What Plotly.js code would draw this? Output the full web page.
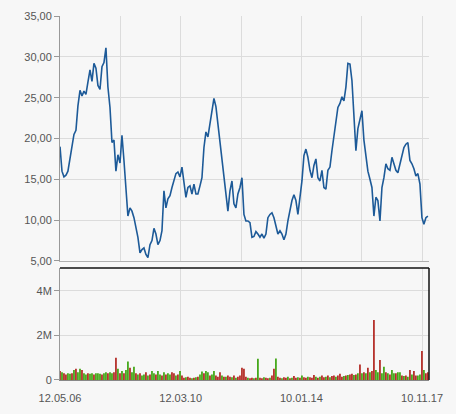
<!DOCTYPE html>
<html><head><meta charset="utf-8">
<script src="https://cdn.plot.ly/plotly-3.0.1.min.js"></script>
<style>html,body{margin:0;padding:0;background:#f7f7f7;}#chart{width:456px;height:414px;}</style>
</head><body><div id="chart"></div>
<script>
// Sampling grid: first date and spacing (days) between samples
const startDate = "2006-05-12";
const stepDays = 23.2;

// Closing price
const price = [
 19.0,16.0,15.3,15.5,16.0,17.7,19.3,20.5,21.0,24.0,
 25.9,25.2,25.8,25.4,26.9,28.4,27.0,29.2,28.6,26.5,
 26.0,28.8,29.3,31.1,26.3,23.8,19.5,19.8,16.0,18.0,
 17.0,20.4,17.3,14.4,10.5,11.5,11.1,10.3,9.1,7.9,
 6.0,6.4,6.6,5.8,5.4,7.0,7.5,9.0,8.3,7.0,
 7.5,8.7,13.6,11.5,12.6,13.0,14.0,14.8,15.7,15.9,
 15.3,16.5,14.4,12.8,14.0,14.2,13.2,14.4,13.2,13.2,
 14.2,15.2,18.9,20.8,20.2,21.8,23.0,24.9,23.9,21.8,
 20.0,17.7,16.1,13.6,11.1,13.6,14.8,12.0,11.5,13.2,
 14.0,15.2,10.7,9.9,9.9,9.7,7.9,8.0,8.6,8.3,
 7.9,8.3,7.8,8.3,10.3,10.7,10.9,10.3,9.1,8.3,
 8.7,8.3,7.6,8.3,9.9,11.1,12.4,13.1,12.4,10.7,
 12.8,14.8,17.9,18.7,17.7,16.1,15.2,16.7,17.5,15.2,
 14.8,16.1,14.0,13.8,16.1,16.5,18.5,20.3,22.0,23.8,
 24.3,25.1,24.6,26.3,29.2,29.1,27.1,23.0,18.5,21.2,
 22.4,23.4,19.8,18.1,16.0,15.0,14.0,10.5,12.8,12.4,
 9.9,14.0,15.2,16.9,16.3,16.1,17.7,16.9,16.1,15.8,
 16.9,18.1,18.9,19.3,19.5,17.3,16.9,16.3,15.4,15.7,
 14.4,10.3,9.5,10.3,10.5
];

// Volume in millions
const volume = [
 0.40,0.35,0.30,0.25,0.30,0.28,0.30,0.45,0.50,0.35,
 0.50,0.45,0.30,0.25,0.30,0.28,0.30,0.25,0.30,0.30,
 0.28,0.25,0.30,0.35,0.30,0.35,0.30,0.35,1.00,0.50,
 0.30,0.40,0.30,0.45,0.83,0.55,0.35,0.60,0.30,0.25,
 0.30,0.20,0.25,0.35,0.20,0.25,0.40,0.30,0.25,0.40,
 0.25,0.20,0.35,0.25,0.30,0.25,0.35,0.30,0.20,0.25,
 0.40,0.20,0.10,0.12,0.15,0.10,0.08,0.10,0.12,0.15,
 0.25,0.38,0.30,0.40,0.35,0.20,0.25,0.40,0.20,0.15,
 0.35,0.20,0.15,0.15,0.20,0.15,0.12,0.20,0.10,0.15,
 0.20,0.55,0.50,0.15,0.10,0.08,0.10,0.08,0.10,0.95,
 0.10,0.08,0.12,0.10,0.08,0.10,0.20,0.50,0.97,0.15,
 0.10,0.08,0.12,0.10,0.15,0.08,0.10,0.18,0.10,0.12,
 0.10,0.20,0.12,0.10,0.15,0.12,0.10,0.22,0.15,0.10,
 0.15,0.20,0.12,0.15,0.20,0.12,0.18,0.20,0.15,0.20,
 0.28,0.15,0.18,0.20,0.22,0.25,0.28,0.22,0.25,0.30,
 0.70,0.30,0.35,0.30,0.55,0.35,0.40,2.70,0.45,0.35,
 0.90,0.30,0.60,0.35,0.30,0.25,0.45,0.30,0.30,0.35,
 0.35,0.20,0.18,0.20,0.15,0.45,0.25,0.40,0.20,0.20,
 0.25,1.30,0.45,0.30,0.35
];

// Direction of each volume bar: R = down, G = up
const direction = (
 "RGRRGGRGRG"+"GRGGRGGRGG"+"GRGGRGGRRG"+"RGRGGRGGRG"+"RGGRGRGGRG"+
 "GRGRGGRRGR"+"GRRGRRGRGR"+"GGRGGRGGRR"+"RGRGRRGRGR"+"RRRRGRRGRG"+
 "RRGRRGRRGR"+"RGRRGRGRRG"+"RGRRGRRRGR"+"GRRGRGRRGR"+"RRGRGRRGRG"+
 "RGRGRGRRGG"+"RGGRGRGGRG"+"GRGRGRGRRG"+"GRGRR").split("");

// Axis ticks
const gridDates = ["2006-05-12","2008-04-11","2010-03-12","2012-02-10","2014-01-10","2015-12-11","2017-11-10"];
const labelDates = ["2006-05-12","2010-03-12","2014-01-10","2017-11-10"];
const labelText = ["12.05.06","12.03.10","10.01.14","10.11.17"];
const volTicks = [0, 2, 4];
const volTickText = ["0","2M","4M"];
const xRange = ["2006-05-12","2018-01-30"];

const t0 = new Date(startDate + "T00:00:00Z").getTime();
const dates = price.map((_, i) => new Date(t0 + i*stepDays*86400000).toISOString().slice(0,10));
const barColors = direction.map(d => d === "R" ? "#b0221c" : "#3aa30c");

const tickFont = {family:"Liberation Sans, Arial, sans-serif", size:11, color:"#555"};

const data = [
 {x: dates, y: price, type:"scatter", mode:"lines", xaxis:"x", yaxis:"y",
  line:{color:"#1d5a98", width:1.6}, hoverinfo:"skip"},
 {x: dates, y: volume, type:"bar", xaxis:"x2", yaxis:"y2",
  marker:{color: barColors, line:{width:0}}, hoverinfo:"skip"}
];

const layout = {
 width:456, height:414,
 margin:{l:60, r:27, t:16, b:34},
 paper_bgcolor:"#f7f7f7", plot_bgcolor:"#f7f7f7",
 showlegend:false, separators:",.", bargap:0.15,
 xaxis:{type:"date", range:xRange, domain:[0,1], anchor:"y",
   tickmode:"array", tickvals:gridDates, showticklabels:false, ticks:"",
   showgrid:true, gridcolor:"#dcdcdc", gridwidth:1,
   showline:true, linecolor:"#b0b0b0", linewidth:1, zeroline:false},
 yaxis:{domain:[0.327,1], range:[5,35], dtick:5, tick0:5, tickformat:".2f",
   showgrid:true, gridcolor:"#dcdcdc", gridwidth:1,
   showline:true, linecolor:"#999", linewidth:1,
   ticks:"outside", ticklen:5, tickcolor:"#999", tickfont:tickFont, zeroline:false},
 xaxis2:{type:"date", range:xRange, domain:[0,1], anchor:"y2",
   tickmode:"array", tickvals:labelDates, ticktext:labelText,
   ticks:"outside", ticklen:8, tickcolor:"rgba(0,0,0,0)",
   showgrid:true, gridcolor:"#dcdcdc", gridwidth:1,
   showline:true, linecolor:"#888", linewidth:1, zeroline:false, tickfont:tickFont},
 yaxis2:{domain:[0,0.3077], range:[0,5.03], tickmode:"array",
   tickvals:volTicks, ticktext:volTickText,
   showgrid:true, gridcolor:"#dcdcdc", gridwidth:1,
   showline:true, linecolor:"#999", linewidth:1,
   ticks:"outside", ticklen:5, tickcolor:"#999", tickfont:tickFont, zeroline:false},
 shapes:[
  {type:"line", xref:"paper", yref:"paper", x0:0, x1:1, y0:0.3077, y1:0.3077, line:{color:"#111", width:1.5}},
  {type:"line", xref:"paper", yref:"paper", x0:1, x1:1, y0:0, y1:0.3077, line:{color:"#111", width:1.5}}
 ]
};

Plotly.newPlot("chart", data, layout, {staticPlot:true, displayModeBar:false});
</script></body></html>
